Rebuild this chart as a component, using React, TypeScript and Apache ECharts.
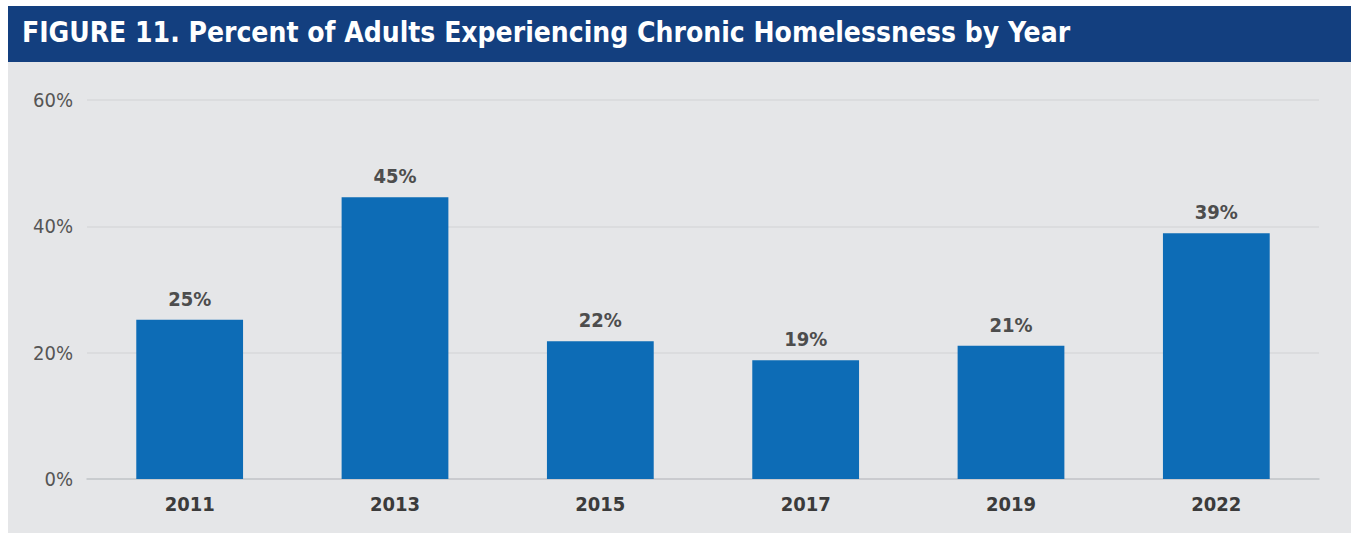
import React, { useEffect, useRef } from "react";
import * as echarts from "echarts";

const titleText = "FIGURE 11. Percent of Adults Experiencing Chronic Homelessness by Year";
const years = ["2011", "2013", "2015", "2017", "2019", "2022"];
const percents = [25.2, 44.6, 21.8, 18.8, 21.1, 38.9];
const yTicks = [0, 20, 40, 60];

const FONT = "'Liberation Sans Narrow', 'DejaVu Sans Condensed', 'Roboto', sans-serif";

export default function App() {
  const ref = useRef<HTMLDivElement>(null);
  useEffect(() => {
    if (!ref.current) return;
    const chart = echarts.init(ref.current, null, { renderer: "svg" });
    chart.setOption({
      animation: false,
      backgroundColor: "#e5e6e8",
      graphic: [
        {
          type: "rect",
          left: 0,
          top: 0,
          shape: { width: 1343, height: 56 },
          style: { fill: "#133f7f" },
        },
        {
          type: "text",
          left: 14,
          top: 12,
          style: {
            text: titleText,
            fill: "#ffffff",
            font: `bold 28px ${FONT}`,
          },
        },
      ],
      grid: { left: 79, right: 32, top: 94, bottom: 54 },
      xAxis: {
        type: "category",
        data: years,
        axisLine: { lineStyle: { color: "#c4c6ca", width: 1.5 } },
        axisTick: { show: false },
        axisLabel: {
          color: "#3b3b3b",
          fontFamily: FONT,
          fontWeight: "bold",
          fontSize: 20,
          margin: 15,
        },
      },
      yAxis: {
        type: "value",
        min: yTicks[0],
        max: yTicks[yTicks.length - 1],
        interval: 20,
        axisLine: { show: false },
        axisTick: { show: false },
        splitLine: { lineStyle: { color: "#d7d8db", width: 1.5 } },
        axisLabel: {
          color: "#555555",
          fontFamily: FONT,
          fontSize: 20,
          margin: 14,
          formatter: (v: number) => `${v}%`,
        },
      },
      series: [
        {
          type: "bar",
          data: percents,
          barWidth: "52%",
          itemStyle: { color: "#0d6cb6" },
          label: {
            show: true,
            position: "top",
            distance: 11,
            color: "#4d4d4d",
            fontFamily: FONT,
            fontWeight: "bold",
            fontSize: 20,
            formatter: (p: any) => `${Math.round(p.value)}%`,
          },
        },
      ],
    });
    return () => chart.dispose();
  }, []);
  return (
    <div
      ref={ref}
      style={{ position: "absolute", left: 8, top: 6, width: 1343, height: 527 }}
    />
  );
}
